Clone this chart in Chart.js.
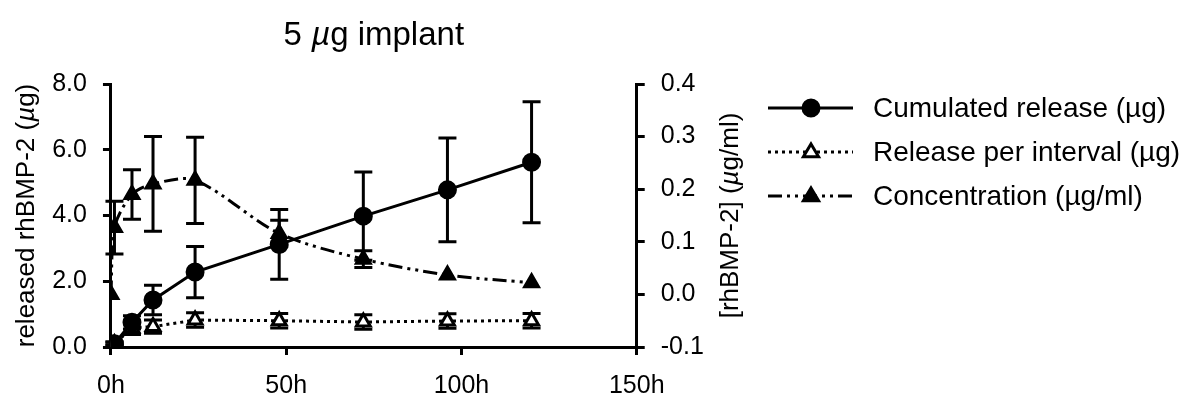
<!DOCTYPE html>
<html>
<head>
<meta charset="utf-8">
<script src="https://cdn.jsdelivr.net/npm/chart.js@4/dist/chart.umd.min.js"></script>
<style>
  html, body { margin: 0; padding: 0; background: #fff; }
  #wrap { width: 1192px; height: 403px; }
</style>
</head>
<body>
<div id="wrap"><canvas id="chart"></canvas></div>
<script>
// Sampling times (hours)
const hours = [0, 1, 6, 12, 24, 48, 72, 96, 120];

// Cumulated release (µg), left axis
const cumulated = [0, 0.1, 0.75, 1.43, 2.28, 3.12, 3.98, 4.78, 5.62];
const cumulatedErr = [0, 0.05, 0.2, 0.45, 0.78, 1.06, 1.34, 1.58, 1.84];

// Release per interval (µg), left axis
const perInterval = [0, 0.1, 0.58, 0.62, 0.82, 0.8, 0.76, 0.79, 0.8];
const perIntervalErr = [0, 0.05, 0.2, 0.2, 0.22, 0.22, 0.22, 0.22, 0.22];

// Concentration (µg/ml), right axis
const concentration = [0.0, 0.127, 0.19, 0.21, 0.217, 0.116, 0.067, 0.037, 0.022];
const concentrationErr = [0, 0.05, 0.047, 0.09, 0.082, 0.025, 0.016, 0, 0];

const xTicks = [0, 50, 100, 150];
const legendLabels = ['Cumulated release (µg)', 'Release per interval (µg)', 'Concentration (µg/ml)'];

const FONT = "'Liberation Sans', Arial, sans-serif";

function points(vals) {
  return hours.map((h, i) => ({ x: h, y: vals[i] }));
}

// error bars with caps, drawn behind the markers
const errorBars = {
  id: 'errorBars',
  beforeDatasetsDraw(chart) {
    const ctx = chart.ctx;
    ctx.save();
    ctx.strokeStyle = '#000';
    ctx.lineWidth = 3;
    chart.data.datasets.forEach(ds => {
      const xs = chart.scales.x, ys = chart.scales[ds.yAxisID];
      ds.errors.forEach((e, j) => {
        if (!e) return;
        const x = xs.getPixelForValue(ds.data[j].x);
        const t = ys.getPixelForValue(ds.data[j].y + e);
        const b = ys.getPixelForValue(ds.data[j].y - e);
        ctx.beginPath();
        ctx.moveTo(x, t); ctx.lineTo(x, b);
        ctx.moveTo(x - 9, t); ctx.lineTo(x + 9, t);
        ctx.moveTo(x - 9, b); ctx.lineTo(x + 9, b);
        ctx.stroke();
      });
    });
    ctx.restore();
  }
};

function marker(ctx, style, x, y, r, fill) {
  ctx.beginPath();
  if (style === 'circle') {
    ctx.arc(x, y, r, 0, Math.PI * 2);
  } else {
    ctx.moveTo(x, y - r);
    ctx.lineTo(x + r * 0.95, y + r * 0.6);
    ctx.lineTo(x - r * 0.95, y + r * 0.6);
    ctx.closePath();
  }
  ctx.fillStyle = fill;
  ctx.fill();
  ctx.lineWidth = 3;
  ctx.strokeStyle = '#000';
  ctx.stroke();
}

// text made of [string, italic] parts, centred on x
function mixedText(ctx, parts, x, y, size) {
  const fonts = parts.map(p => (p[1] ? 'italic ' : '') + size + 'px ' + FONT);
  let w = 0;
  parts.forEach((p, i) => { ctx.font = fonts[i]; w += ctx.measureText(p[0]).width; });
  let cx = x - w / 2;
  ctx.textAlign = 'left';
  parts.forEach((p, i) => {
    ctx.font = fonts[i];
    ctx.fillText(p[0], cx, y);
    cx += ctx.measureText(p[0]).width;
  });
}

// title, rotated axis titles and legend
const decorations = {
  id: 'decorations',
  afterDraw(chart) {
    const ctx = chart.ctx, a = chart.chartArea;
    const midY = (a.top + a.bottom) / 2;
    ctx.save();
    ctx.fillStyle = '#000';
    ctx.textBaseline = 'middle';
    mixedText(ctx, [['5 ', false], ['µ', true], ['g implant', false]], (a.left + a.right) / 2, 36, 33);

    ctx.save();
    ctx.translate(27, midY);
    ctx.rotate(-Math.PI / 2);
    mixedText(ctx, [['released rhBMP-2 (', false], ['µ', true], ['g)', false]], 0, 0, 26);
    ctx.restore();

    ctx.save();
    ctx.translate(731, midY);
    ctx.rotate(-Math.PI / 2);
    mixedText(ctx, [['[rhBMP-2] (', false], ['µ', true], ['g/ml)', false]], 0, 0, 26);
    ctx.restore();

    chart.data.datasets.forEach((ds, i) => {
      const y = 108 + i * 44;
      ctx.beginPath();
      ctx.setLineDash(ds.borderDash || []);
      ctx.lineWidth = 3;
      ctx.strokeStyle = '#000';
      ctx.moveTo(768, y); ctx.lineTo(853, y);
      ctx.stroke();
      ctx.setLineDash([]);
      marker(ctx, ds.pointStyle, 811, y, 8, ds.pointBackgroundColor);
      ctx.fillStyle = '#000';
      ctx.font = '28px ' + FONT;
      ctx.textAlign = 'left';
      ctx.fillText(legendLabels[i], 873, y + 1);
    });
    ctx.restore();
  }
};

const tickFont = { family: FONT, size: 25 };
const axisGrid = { display: true, drawOnChartArea: false, drawTicks: true, tickLength: 8, color: '#000', lineWidth: 3 };
const fmt1 = v => (Math.abs(v) < 1e-9 ? 0 : v).toFixed(1);
// invisible axis titles only reserve room; the real ones are drawn by the plugin
const ghostTitle = { display: true, text: 'M', font: { family: FONT, size: 26 }, color: 'rgba(0,0,0,0)', padding: 2 };

new Chart(document.getElementById('chart'), {
  type: 'line',
  data: {
    datasets: [
      {
        label: legendLabels[0], data: points(cumulated), errors: cumulatedErr, yAxisID: 'y',
        borderColor: '#000', borderWidth: 3, pointStyle: 'circle', pointRadius: 8,
        pointBackgroundColor: '#000', pointBorderColor: '#000', tension: 0
      },
      {
        label: legendLabels[1], data: points(perInterval), errors: perIntervalErr, yAxisID: 'y',
        borderColor: '#000', borderWidth: 3, borderDash: [3, 4], pointStyle: 'triangle', pointRadius: 8,
        pointBackgroundColor: '#fff', pointBorderColor: '#000', pointBorderWidth: 3, tension: 0
      },
      {
        label: legendLabels[2], data: points(concentration), errors: concentrationErr, yAxisID: 'y2',
        borderColor: '#000', borderWidth: 3, borderDash: [14, 5, 3, 5, 3, 5], pointStyle: 'triangle', pointRadius: 8,
        pointBackgroundColor: '#000', pointBorderColor: '#000', tension: 0.3
      }
    ]
  },
  options: {
    responsive: true,
    maintainAspectRatio: false,
    animation: false,
    layout: { padding: { top: 84, right: 437, left: 1, bottom: 0 } },
    plugins: { legend: { display: false }, tooltip: { enabled: false }, title: { display: false } },
    scales: {
      x: {
        type: 'linear', min: 0, max: 150,
        afterBuildTicks: s => { s.ticks = xTicks.map(v => ({ value: v })); },
        afterFit: s => { s.height = 56; },
        ticks: { font: tickFont, color: '#000', padding: 16, callback: v => v + 'h', maxRotation: 0 },
        grid: axisGrid,
        border: { display: true, color: '#000', width: 3 }
      },
      y: {
        position: 'left', min: 0, max: 8,
        ticks: { stepSize: 2, font: tickFont, color: '#000', padding: 16, callback: fmt1 },
        grid: axisGrid,
        border: { display: true, color: '#000', width: 3 },
        title: ghostTitle
      },
      y2: {
        position: 'right', min: -0.1, max: 0.4,
        ticks: { stepSize: 0.1, font: tickFont, color: '#000', padding: 16, callback: fmt1 },
        grid: axisGrid,
        border: { display: true, color: '#000', width: 3 },
        title: ghostTitle
      }
    }
  },
  plugins: [errorBars, decorations]
});
</script>
</body>
</html>
